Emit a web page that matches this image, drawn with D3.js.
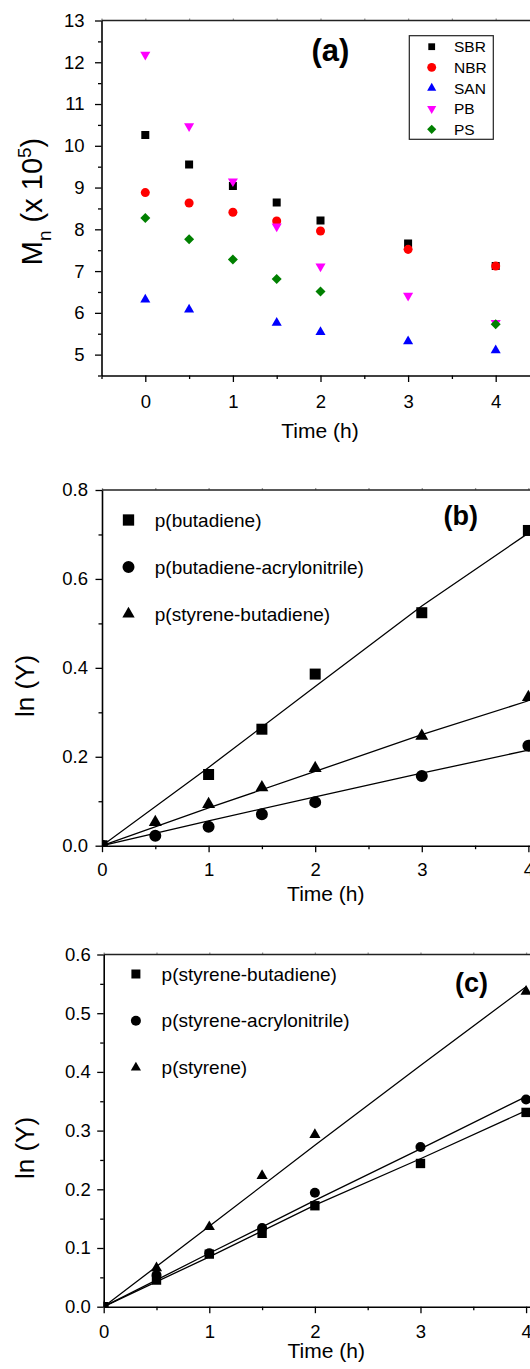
<!DOCTYPE html>
<html>
<head>
<meta charset="utf-8">
<script src="https://cdn.jsdelivr.net/npm/d3@7"></script>
<style>
  body { margin: 0; background: #fff; }
  svg { display: block; }
  text { font-family: "Liberation Sans", Arial, sans-serif; fill: #000; }
</style>
</head>
<body>
<svg id="chart" width="530" height="1369"></svg>
<script>
// ---- panel (a): Mn vs time ----
const timeA = [0, 0.5, 1, 1.5, 2, 3, 4];
const sbrA = [10.26, 9.55, 9.04, 8.645, 8.21, 7.66, 7.12];
const nbrA = [8.88, 8.63, 8.41, 8.20, 7.96, 7.52, 7.12];
const sanA = [6.32, 6.08, null, 5.76, 5.54, 5.32, 5.10];
const pbA = [12.18, 10.47, 9.15, 8.07, 7.11, 6.41, 5.76];
const psA = [8.27, 7.76, 7.28, 6.81, 6.51, null, 5.73];
const namesA = ['SBR', 'NBR', 'SAN', 'PB', 'PS'];
const ticksYA = [5, 6, 7, 8, 9, 10, 11, 12, 13];
const ticksXA = [0, 1, 2, 3, 4];

// ---- panel (b): ln(Y) vs time, butadiene polymers ----
const timeB = [0, 0.5, 1, 1.5, 2, 3, 4];
const butB = [0, null, 0.160, 0.262, 0.386, 0.524, 0.709];
const banB = [0, 0.0225, 0.0427, 0.0706, 0.098, 0.157, 0.225];
const sbB = [0, 0.0526, 0.093, 0.131, 0.174, 0.247, 0.334];
const fitTime = [0, 1, 2, 3, 4];
const fitButB = [0, 0.176, 0.358, 0.539, 0.703];
const fitBanB = [0, 0.056, 0.110, 0.163, 0.215];
const fitSbB = [0, 0.085, 0.167, 0.250, 0.326];
const namesB = ['p(butadiene)', 'p(butadiene-acrylonitrile)', 'p(styrene-butadiene)'];
const ticksYB = [0, 0.2, 0.4, 0.6, 0.8];

// ---- panel (c): ln(Y) vs time, styrene polymers ----
const timeC = [0, 0.5, 1, 1.5, 2, 3, 4];
const sbC = [0, 0.0454, 0.0896, 0.125, 0.172, 0.244, 0.331];
const sanC = [0, 0.054, 0.091, 0.134, 0.194, 0.272, 0.353];
const styC = [0, 0.066, 0.136, 0.223, 0.293, null, 0.537];
const fitSbC = [0, 0.085, 0.173, 0.252, 0.334];
const fitSanC = [0, 0.091, 0.181, 0.269, 0.358];
const fitStyC = [0, 0.137, 0.275, 0.411, 0.545];
const namesC = ['p(styrene-butadiene)', 'p(styrene-acrylonitrile)', 'p(styrene)'];
const ticksYC = [0, 0.1, 0.2, 0.3, 0.4, 0.5, 0.6];
const ticksXBC = [0, 1, 2, 3, 4];

const svg = d3.select('#chart');
svg.append('rect').attr('width', 530).attr('height', 1369).attr('fill', '#fff');
const defs = svg.append('defs');

// marker shapes: [d3 symbol type, rotation]
const SQUARE = [d3.symbolSquare, 0];
const CIRCLE = [d3.symbolCircle, 0];
const TRI_UP = [d3.symbolTriangle, 0];
const TRI_DOWN = [d3.symbolTriangle, 180];
const DIAMOND = [d3.symbolSquare, 45];

function marker(g, shape, size, cx, cy, fill) {
  g.append('path')
    .attr('d', d3.symbol().type(shape[0]).size(size)())
    .attr('transform', `translate(${cx},${cy}) rotate(${shape[1]})`)
    .attr('fill', fill);
}

// plot-area clip, markers sitting on the axes get cut like in Origin
function plotClip(id, x, y) {
  const [x0, x1] = x.range();
  const [yb, yt] = y.range();
  defs.append('clipPath').attr('id', id)
    .append('rect').attr('x', x0).attr('y', yt).attr('width', x1 - x0).attr('height', yb - yt);
  return `url(#${id})`;
}

function drawFrame(g, x, y, o) {
  const [x0, x1] = x.range();
  const [yb, yt] = y.range();

  // minor ticks first, then major axes on top
  g.append('g')
    .attr('transform', `translate(0,${yb})`)
    .call(d3.axisBottom(x).tickValues(o.xMinor).tickSize(3.5).tickFormat(''))
    .call(a => a.select('.domain').remove());
  g.append('g')
    .attr('transform', `translate(${x0},0)`)
    .call(d3.axisLeft(y).tickValues(o.yMinor).tickSize(3.5).tickFormat(''))
    .call(a => a.select('.domain').remove());

  // tiny ticks on the top border
  g.append('g')
    .attr('transform', `translate(0,${yt})`)
    .call(d3.axisTop(x).tickValues(o.xMinor.concat(o.xMajor)).tickSize(2).tickFormat(''))
    .call(a => a.select('.domain').remove())
    .selectAll('line').attr('stroke', '#999');

  g.append('line').attr('x1', x0).attr('x2', x1).attr('y1', yt).attr('y2', yt)
    .attr('stroke', '#222').attr('stroke-width', 1.3);
  g.append('line').attr('x1', x1).attr('x2', x1).attr('y1', yt).attr('y2', yb)
    .attr('stroke', '#222').attr('stroke-width', 1.3);

  const xa = g.append('g')
    .attr('transform', `translate(0,${yb})`)
    .call(d3.axisBottom(x).tickValues(o.xMajor).tickSize(6.5).tickSizeOuter(0)
      .tickPadding(o.xPad).tickFormat(d3.format('d')));
  const ya = g.append('g')
    .attr('transform', `translate(${x0},0)`)
    .call(d3.axisLeft(y).tickValues(o.yMajor).tickSize(6.5).tickSizeOuter(0)
      .tickPadding(o.yPad).tickFormat(o.yFmt));

  g.selectAll('.tick line').attr('stroke-width', 1.3);
  [xa, ya].forEach(a => {
    a.select('.domain').attr('stroke-width', 1.6);
    a.selectAll('text').attr('font-size', 18.5).attr('font-family', '"Liberation Sans", Arial, sans-serif');
  });

  g.append('text')
    .attr('x', o.xTitle[0]).attr('y', o.xTitle[1])
    .attr('text-anchor', 'middle').attr('font-size', 21)
    .text('Time (h)');

  g.append('text')
    .attr('x', o.tag[0]).attr('y', o.tag[1])
    .attr('text-anchor', 'middle').attr('font-size', o.tagSize).attr('font-weight', 'bold')
    .text(o.tagText);
}

function drawLnTitle(g, cx, cy) {
  g.append('text')
    .attr('transform', `translate(${cx},${cy}) rotate(-90)`)
    .attr('text-anchor', 'middle').attr('font-size', 26)
    .text('ln (Y)');
}

// ================= panel (a) =================
function renderPanelA() {
  const g = svg.append('g');
  const x = d3.scaleLinear().domain([-0.5, 4.5]).range([101.5, 539.5]);
  const y = d3.scaleLinear().domain([4.5, 13]).range([375.5, 20.5]);

  drawFrame(g, x, y, {
    xMajor: ticksXA, xMinor: [-0.5, 0.5, 1.5, 2.5, 3.5, 4.5],
    yMajor: ticksYA, yMinor: [4.5, 5.5, 6.5, 7.5, 8.5, 9.5, 10.5, 11.5, 12.5],
    xPad: 13, yPad: 10.5, yFmt: d3.format('d'),
    xTitle: [320, 438], tag: [330.5, 61], tagSize: 31, tagText: '(a)'
  });

  const t = g.append('text')
    .attr('transform', 'translate(42,201.5) rotate(-90)')
    .attr('text-anchor', 'middle').attr('font-size', 29);
  t.append('tspan').text('M');
  t.append('tspan').attr('font-size', 19).attr('dy', 9).text('n');
  t.append('tspan').attr('dy', -9).text(' (x 10');
  t.append('tspan').attr('font-size', 19).attr('dy', -11).text('5');
  t.append('tspan').attr('dy', 11).text(')');

  const series = [
    { vals: sbrA, shape: SQUARE, size: 64, color: '#000000', lsize: 46 },
    { vals: nbrA, shape: CIRCLE, size: 64, color: '#ff0000', lsize: 62 },
    { vals: sanA, shape: TRI_UP, size: 44, color: '#0000ff', lsize: 36 },
    { vals: pbA, shape: TRI_DOWN, size: 44, color: '#ff00ff', lsize: 36 },
    { vals: psA, shape: DIAMOND, size: 50, color: '#008000', lsize: 42 }
  ];
  const pts = g.append('g').attr('clip-path', plotClip('clipA', x, y));
  series.forEach(s => {
    s.vals.forEach((v, i) => {
      if (v === null) return;
      marker(pts, s.shape, s.size, x(timeA[i]), y(v), s.color);
    });
  });

  // legend box
  const lg = g.append('g');
  lg.append('rect').attr('x', 409.3).attr('y', 35.7).attr('width', 84).attr('height', 103.6)
    .attr('fill', 'none').attr('stroke', '#222').attr('stroke-width', 1.2);
  series.forEach((s, i) => {
    const cy = 46.7 + i * 20.65;
    marker(lg, s.shape, s.lsize, 431.7, cy, s.color);
    lg.append('text').attr('x', 454).attr('y', cy + 5.5).attr('font-size', 15.5).text(namesA[i]);
  });
}

// ================= panels (b) and (c) =================
function renderLnPanel(p) {
  const g = svg.append('g');
  const x = d3.scaleLinear().domain([0, 4.2]).range(p.xRange);
  const y = d3.scaleLinear().domain(p.yDomain).range(p.yRange);

  drawFrame(g, x, y, {
    xMajor: ticksXBC, xMinor: [0.5, 1.5, 2.5, 3.5],
    yMajor: p.yMajor, yMinor: p.yMinor,
    xPad: p.xPad, yPad: p.yPad, yFmt: d3.format('.1f'),
    xTitle: p.xTitle, tag: p.tag, tagSize: 27, tagText: p.tagText
  });
  drawLnTitle(g, p.yTitle[0], p.yTitle[1]);

  const pts = g.append('g').attr('clip-path', plotClip(p.clipId, x, y));
  const line = d3.line().x((d, i) => x(fitTime[i])).y(d => y(d));
  p.fits.forEach(f => {
    pts.append('path').attr('d', line(f)).attr('fill', 'none')
      .attr('stroke', '#000').attr('stroke-width', 1.3);
  });

  p.series.forEach(s => {
    s.vals.forEach((v, i) => {
      if (v === null) return;
      marker(pts, s.shape, s.size, x(p.time[i]), y(v), '#000');
    });
  });

  p.series.forEach((s, i) => {
    const cy = p.legend.y0 + i * p.legend.dy;
    marker(g, s.shape, s.lsize, p.legend.mx, cy, '#000');
    g.append('text').attr('x', p.legend.tx).attr('y', cy + 6.5)
      .attr('font-size', 19).text(p.names[i]);
  });
}

renderPanelA();

renderLnPanel({
  clipId: 'clipB',
  xRange: [102, 549.7], yDomain: [0, 0.8], yRange: [845.7, 490],
  yMajor: ticksYB, yMinor: [0.1, 0.3, 0.5, 0.7],
  xPad: 11, yPad: 7.5, xTitle: [325.8, 901], yTitle: [33.5, 686],
  tag: [460.7, 524.5], tagText: '(b)',
  time: timeB,
  fits: [fitButB, fitSbB, fitBanB],
  series: [
    { vals: butB, shape: SQUARE, size: 121, lsize: 128 },
    { vals: banB, shape: CIRCLE, size: 113, lsize: 113 },
    { vals: sbB, shape: TRI_UP, size: 73, lsize: 66 }
  ],
  names: namesB,
  legend: { mx: 128.5, tx: 154.8, y0: 520, dy: 47 }
});

renderLnPanel({
  clipId: 'clipC',
  xRange: [103.7, 547.2], yDomain: [0, 0.6], yRange: [1306.7, 954.5],
  yMajor: ticksYC, yMinor: [0.05, 0.15, 0.25, 0.35, 0.45, 0.55],
  xPad: 11.5, yPad: 6.5, xTitle: [326.2, 1357.5], yTitle: [34, 1148],
  tag: [471.6, 991.5], tagText: '(c)',
  time: timeC,
  fits: [fitStyC, fitSanC, fitSbC],
  series: [
    { vals: sbC, shape: SQUARE, size: 88, lsize: 81 },
    { vals: sanC, shape: CIRCLE, size: 79, lsize: 79 },
    { vals: styC, shape: TRI_UP, size: 54, lsize: 45 }
  ],
  names: namesC,
  legend: { mx: 135.9, tx: 161.6, y0: 974, dy: 46.8 }
});
</script>
</body>
</html>
